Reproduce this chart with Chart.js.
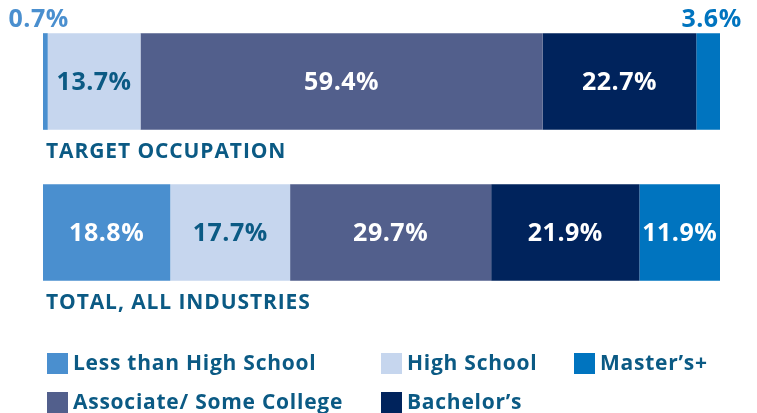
<!DOCTYPE html>
<html>
<head>
<meta charset="utf-8">
<style>
  html, body { margin: 0; padding: 0; background: #ffffff; }
  #wrap { position: relative; width: 757px; height: 413px; }
</style>
<script src="https://cdn.jsdelivr.net/npm/chart.js@4.4.1/dist/chart.umd.min.js"></script>
</head>
<body>
<div id="wrap"><canvas id="c" width="757" height="413"></canvas></div>
<script>
// ---- data ----
const categories = ['TARGET OCCUPATION', 'TOTAL, ALL INDUSTRIES'];
const seriesNames = ['Less than High School', 'High School', 'Associate/ Some College', 'Bachelor\u2019s', 'Master\u2019s+'];
const lessThanHighSchool = [0.7, 18.8];
const highSchool = [13.7, 17.7];
const associateSomeCollege = [59.4, 29.7];
const bachelors = [22.7, 21.9];
const mastersPlus = [3.6, 11.9];

// ---- styles ----
const colors = ['#4a8fcf', '#c6d6ee', '#525f8c', '#00235c', '#0074bf'];
const labelColors = ['#ffffff', '#0b5a84', '#ffffff', '#ffffff', '#ffffff'];
const textColor = '#0b5a84';
const FONT = '"Open Sans", "DejaVu Sans", sans-serif';
// legend slots per dataset [x of box, y of box top]
const legendSlots = [[47, 353], [381, 353], [47, 392], [381, 392], [574, 353]];

const seriesValues = [lessThanHighSchool, highSchool, associateSomeCollege, bachelors, mastersPlus];

const datasets = seriesNames.map((name, i) => ({
  label: name,
  data: seriesValues[i],
  backgroundColor: colors[i],
  borderWidth: 0,
  barPercentage: 1.0,
  categoryPercentage: 0.64
}));

const overlay = {
  id: 'overlay',
  afterDatasetsDraw(chart) {
    const ctx = chart.ctx;
    ctx.save();
    ctx.textBaseline = 'middle';
    // value labels
    chart.data.datasets.forEach((ds, di) => {
      const meta = chart.getDatasetMeta(di);
      meta.data.forEach((el, idx) => {
        const v = ds.data[idx];
        const txt = v.toFixed(1) + '%';
        const cx = (el.x + el.base) / 2;
        ctx.font = '700 25px ' + FONT;
        ctx.letterSpacing = '0.5px';
        if (v < 5) {
          ctx.fillStyle = colors[di];
          ctx.textAlign = 'right';
          const top = el.y - el.height / 2;
          ctx.fillText(txt, el.x + 21, top - 13);
        } else {
          ctx.fillStyle = labelColors[di];
          ctx.textAlign = 'center';
          ctx.fillText(txt, cx, el.y + 1);
        }
      });
    });
    // category labels under bars
    const meta0 = chart.getDatasetMeta(0);
    ctx.textAlign = 'left';
    ctx.font = '700 21px ' + FONT;
    ctx.letterSpacing = '0.9px';
    ctx.fillStyle = textColor;
    categories.forEach((cat, idx) => {
      const el = meta0.data[idx];
      const bottom = el.y + el.height / 2;
      ctx.fillText(cat, chart.chartArea.left + 3, bottom + 22);
    });
    // legend
    ctx.font = '700 21px ' + FONT;
    ctx.letterSpacing = '0.75px';
    chart.data.datasets.forEach((ds, di) => {
      const [x, y] = legendSlots[di];
      ctx.fillStyle = colors[di];
      ctx.fillRect(x, y, 21, 21);
      ctx.fillStyle = textColor;
      ctx.textAlign = 'left';
      ctx.fillText(ds.label, x + 26, y + 11);
    });
    ctx.restore();
  }
};

new Chart(document.getElementById('c'), {
  type: 'bar',
  data: { labels: categories, datasets },
  plugins: [overlay],
  options: {
    indexAxis: 'y',
    responsive: false,
    animation: false,
    layout: { padding: { left: 43, right: 37, top: 6, bottom: 105 } },
    plugins: { legend: { display: false }, tooltip: { enabled: false } },
    scales: {
      x: { stacked: true, min: 0, max: 100, display: false, grid: { display: false } },
      y: { stacked: true, display: false, grid: { display: false } }
    }
  }
});
</script>
</body>
</html>
